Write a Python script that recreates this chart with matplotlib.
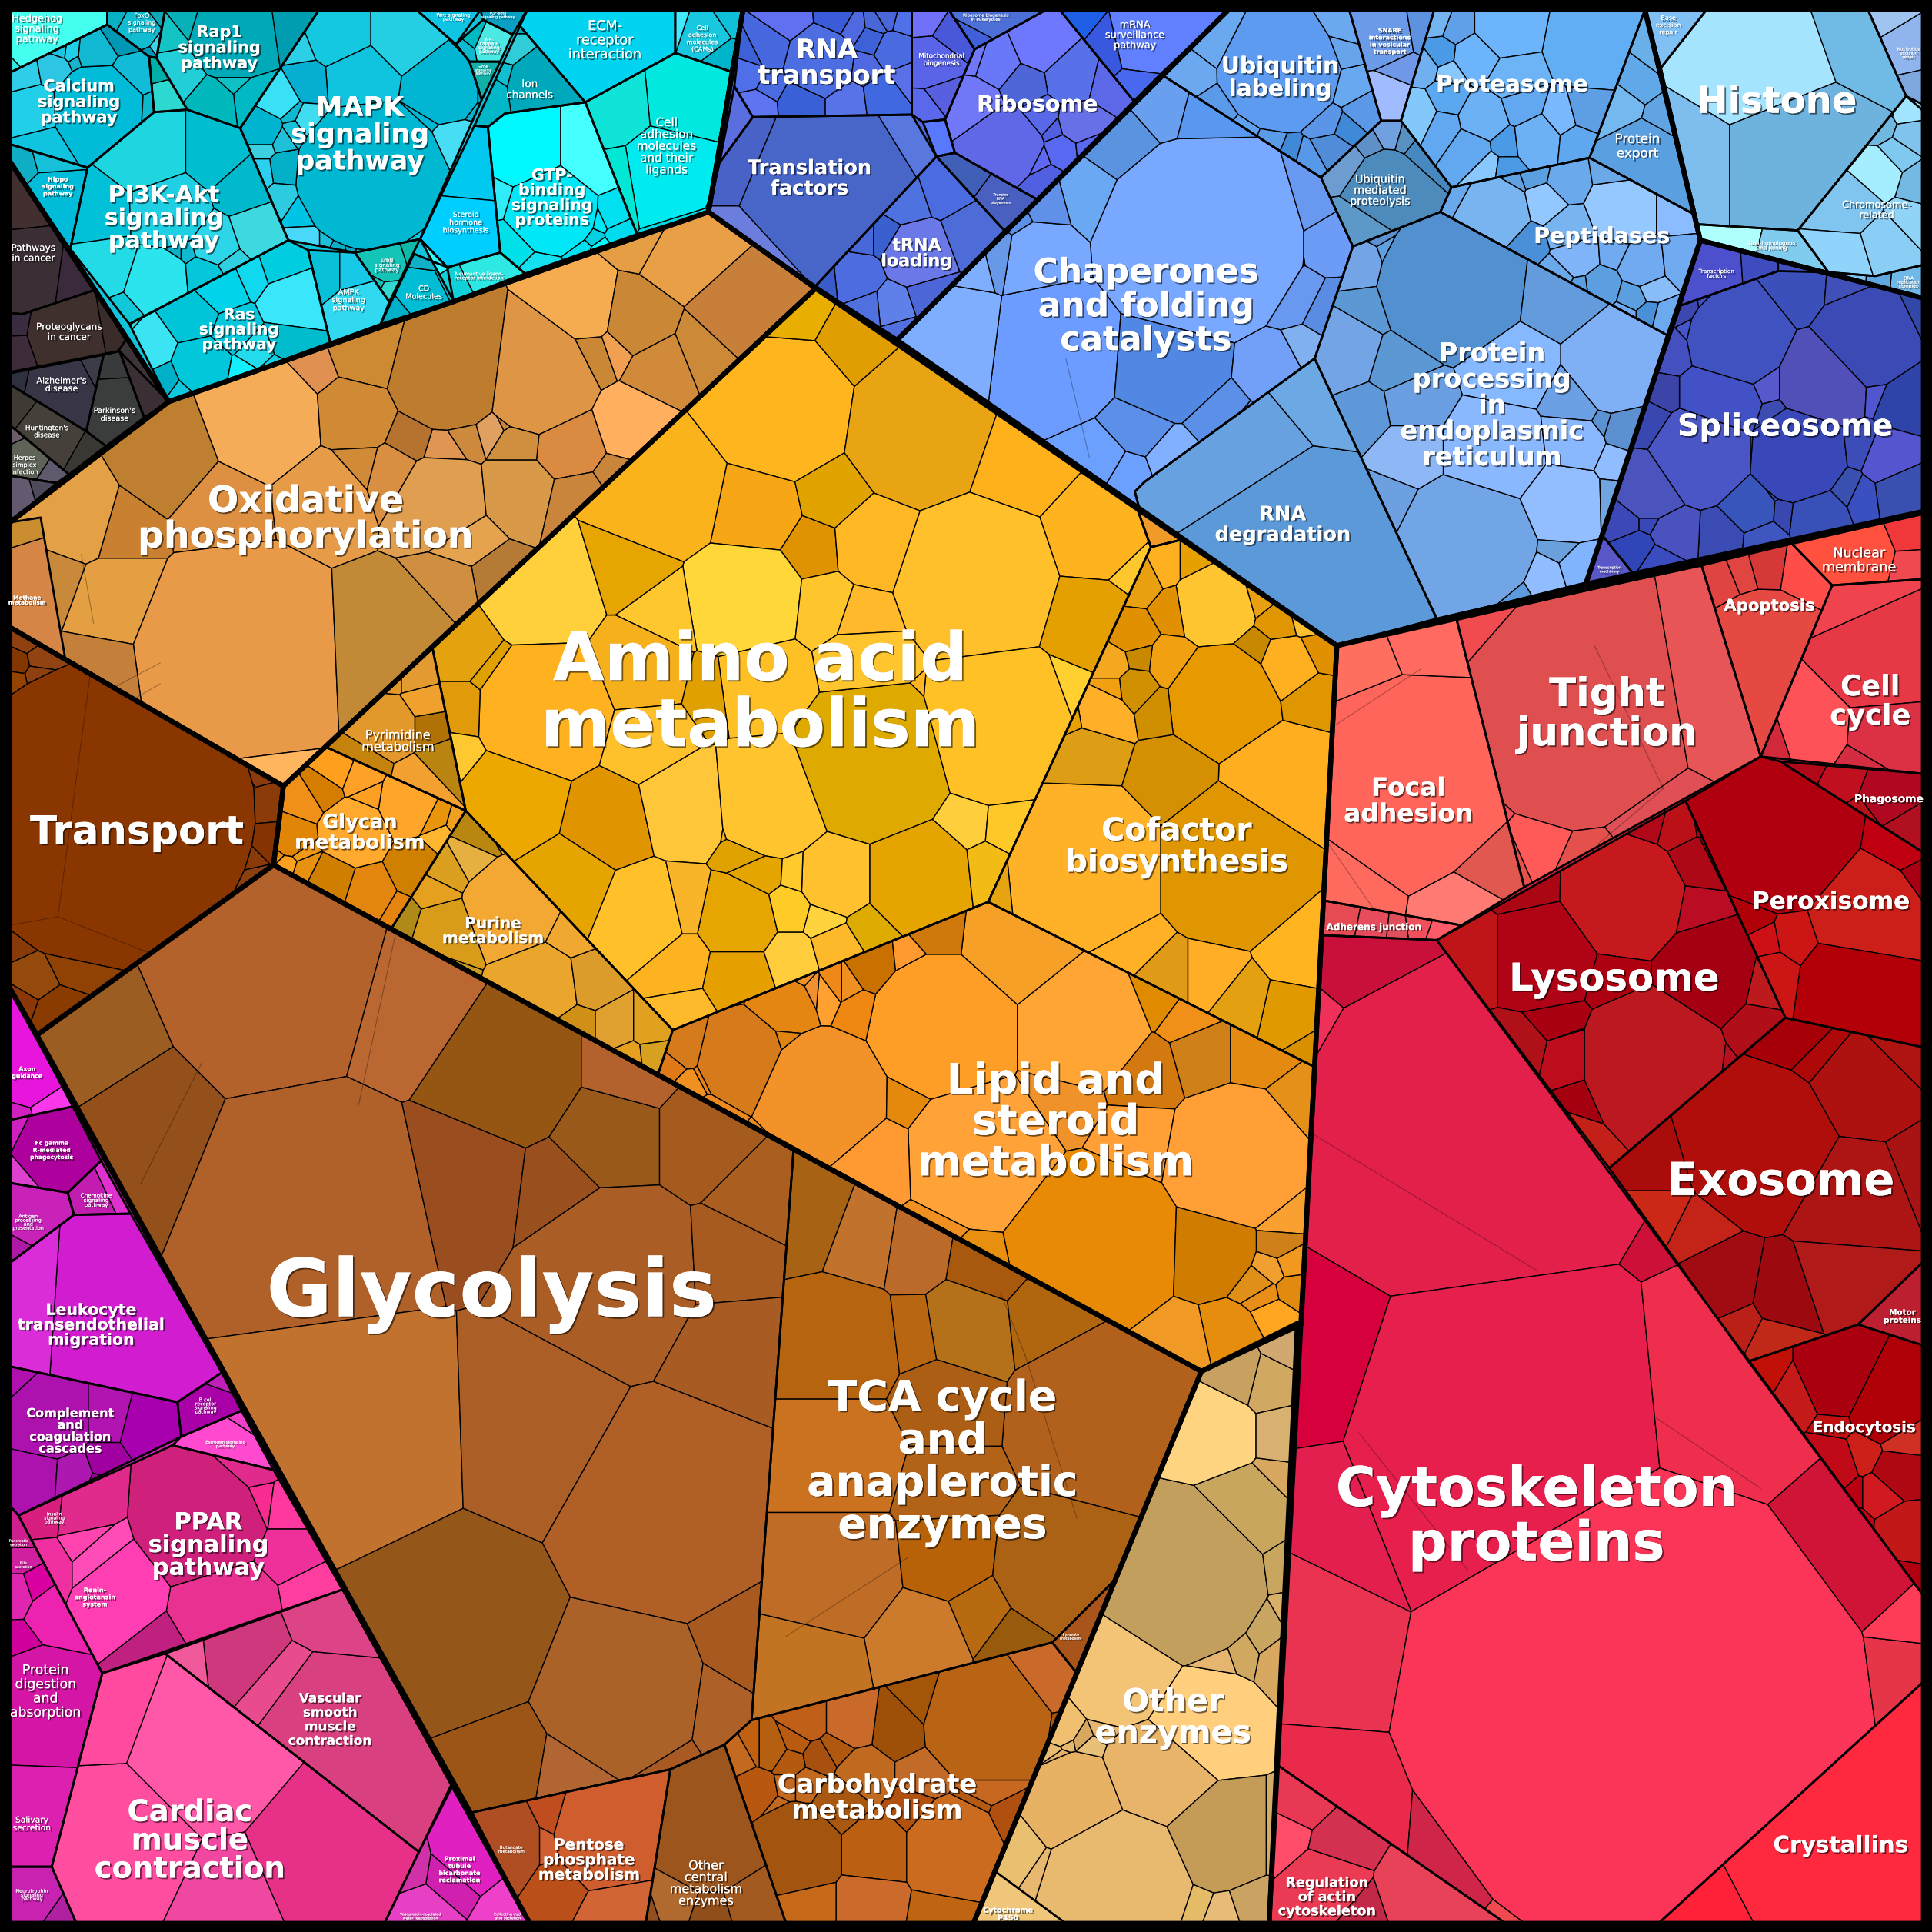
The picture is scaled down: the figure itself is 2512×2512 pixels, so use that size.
import matplotlib
matplotlib.use('Agg')
import matplotlib.pyplot as plt
from matplotlib.patches import Polygon
import matplotlib.patheffects as pe

# cells are (x, y, radius, colour), regions are outline vertices
# a negative radius pushes a cell's border towards its own seed

# signalling block, teal
signal_poly = [(8,8),(603,8),(575,172),(137,326),(8,131)]
hedgehog_poly = [(8,8),(87,8),(87,20),(8,59)]
hedgehog_cells = [(45,25,40,'#44fff0'),(8,60,6,'#33e8e0')]
foxo_poly = [(87,8),(134,8),(127,47),(121,46),(87,20)]
foxo_cells = [(113,25,15,'#12bcd0'),(92,14,4,'#08b0c4'),(128,36,6,'#3dd4e8'),(120,42,3,'#0098b8'),(130,12,4,'#10a8b8')]
calcium_poly = [(8,59),(87,20),(121,46),(125,91),(71,136),(8,117)]
calcium_cells = [(80,88,36,'#00bcd8'),(25,90,20,'#22cfe8'),(18,62,12,'#30cde8'),(45,57,11,'#2cc6e4'),(78,45,14,'#10b8d2'),(105,62,15,'#12bcd8'),(58,43,5,'#20d0e8'),(98,32,8,'#0098b4'),(32,118,15,'#10c4e0'),(117,90,6,'#0db8cc'),(62,50,3,'#18b4cc'),(50,42,3,'#20c4e0')]
hippo_poly = [(8,117),(71,136),(57,202),(8,131)]
hippo_cells = [(42,162,22,'#00bcd8'),(18,138,8,'#10aec4'),(40,132,6,'#16c0d8')]
pi3k_poly = [(71,136),(125,91),(152,89),(195,104),(234,195),(105,263),(57,202)]
pi3k_cells = [(118,122,34,'#1fd5e0'),(175,122,26,'#00bdd0'),(200,150,22,'#00b9cc'),(212,185,20,'#3dd8e0'),(80,172,26,'#00c1d8'),(86,215,24,'#22dbe6'),(127,228,26,'#2ce4ee'),(164,225,15,'#06c7da'),(174,198,16,'#2cd5e8'),(135,170,30,'#1fcfe4'),(100,252,10,'#10c8d8'),(142,205,5,'#0cb0c8'),(185,213,5,'#30d0e0'),(150,205,3,'#10b8d0')]
ras_poly = [(105,263),(234,195),(250,203),(268,278),(137,326)]
ras_cells = [(177,232,18,'#00d3ea'),(228,212,15,'#00cde0'),(240,245,22,'#3ae6fa'),(155,255,18,'#00c5d8'),(120,280,16,'#3ae4f2'),(164,297,20,'#00c8da'),(236,275,14,'#00bccc'),(134,310,7,'#00b0c8'),(208,285,9,'#22dcec'),(197,303,5,'#12f0ff'),(204,220,9,'#10d8ee'),(190,268,12,'#06c8dc'),(222,300,4,'#10d0e6'),(145,318,3,'#10c8dc'),(100,262,3,'#40d0d8')]
rap1_poly = [(134,8),(259,8),(195,104),(152,89),(127,47)]
rap1_cells = [(190,30,34,'#00a9b8'),(146,60,14,'#22cfd8'),(205,78,10,'#00b9c4'),(172,82,14,'#00b8bc'),(190,62,8,'#10c0c4'),(150,18,6,'#08b0b8'),(225,25,6,'#009cb0'),(140,26,4,'#14c4c4')]
ip3_poly = [(121,46),(127,47),(152,89),(125,91)]
ip3_cells = [(133,78,10,'#2cd8d0'),(128,58,5,'#00b0a8')]
mapk_poly = [(259,8),(338,8),(370,36),(381,50),(391,81),(341,194),(288,205),(234,195),(195,104)]
mapk_cells = [(276,28,26,'#14c8e0'),(326,28,26,'#25cfe3'),(360,72,28,'#00b6d2'),(292,62,26,'#10c3de'),(250,65,13,'#06aed2'),(246,40,7,'#2ccfe6'),(224,80,15,'#3ae0f5'),(212,103,15,'#00b5d0'),(301,143,60,'#00b8d2'),(368,112,13,'#46ddf5'),(348,92,8,'#00b8d6'),(376,84,5,'#10b0cc'),(385,72,4,'#00a8c0'),(248,172,10,'#00c4e6'),(249,195,9,'#4ad8fa'),(232,137,9,'#04afc8'),(212,118,4,'#3bcfe0'),(212,140,4,'#2ad0ee'),(230,160,6,'#2ccbe0'),(275,200,4,'#0cb0c8'),(297,203,5,'#14c0e0'),(318,198,6,'#10c0de'),(334,190,5,'#10c8e8'),(248,98,5,'#40dcf0'),(238,105,3,'#18c0d8'),(262,205,3,'#40d8f0'),(284,198,3,'#08a8c0'),(372,60,4,'#00b0c8'),(235,92,3,'#10b8d0'),(228,112,3,'#20c0d8'),(265,195,2,'#1cc0d8')]
wnt_poly = [(338,8),(390,8),(370,36)]
wnt_cells = [(368,16,12,'#10c4e4')]
tgf_poly = [(390,8),(428,8),(416,28),(392,16)]
tgf_cells = [(405,14,9,'#0aa0c4')]
nfkb_poly = [(370,36),(392,16),(416,28),(406,50),(381,50)]
nfkb_cells = [(398,36,10,'#4ce8e4'),(376,40,3,'#10b8d0'),(384,30,4,'#00b8c0')]
mtor_poly = [(381,50),(406,50),(391,81)]
mtor_cells = [(393,60,8,'#12b0a8')]
ampk_poly = [(250,203),(288,205),(316,245),(309,263),(268,278)]
ampk_cells = [(292,255,22,'#30d8f0'),(265,222,12,'#08c0d8'),(283,222,9,'#18c8e8')]
erbb_poly = [(288,205),(341,194),(316,245)]
erbb_cells = [(313,212,14,'#14c4b8'),(315,238,3,'#30d8d0'),(303,232,2,'#18c0b8'),(335,205,3,'#10b8a8')]
cd_poly = [(336,206),(363,217),(368,244),(309,263)]
cd_cells = [(342,235,16,'#00bcd4'),(345,212,5,'#10b0c8'),(362,225,4,'#10b8cc'),(318,255,3,'#00b0c8')]
neuro_poly = [(341,194),(363,217),(406,205),(426,222),(368,244)]
neuro_cells = [(392,222,14,'#2ee8e4'),(355,205,8,'#36f8ff'),(372,232,8,'#10d0d8')]
steroid_poly = [(385,102),(396,103),(406,205),(363,217),(341,194)]
steroid_cells = [(382,140,16,'#00c8ee'),(378,185,20,'#00ceff')]
gtp_poly = [(396,103),(410,92),(475,83),(517,190),(426,222),(406,205)]
gtp_cells = [(430,130,25,'#00f8ff'),(480,130,25,'#44ffff'),(448,170,36,'#00e8f8'),(497,172,9,'#00e0f0'),(422,195,12,'#00e0e8'),(505,190,6,'#00dcec'),(470,200,6,'#00e0f0'),(415,160,6,'#30ecf8'),(487,205,3,'#00fcff'),(440,213,4,'#14e0f0'),(478,192,2,'#00d0e0'),(484,178,3,'#00e8f8')]
ion_poly = [(428,8),(421,20),(475,83),(410,92),(396,103),(385,102)]
ion_cells = [(434,67,20,'#00a8bc'),(413,40,8,'#30ccd8'),(400,72,5,'#00b8c8'),(413,17,3,'#00b0c0'),(408,60,3,'#10c0d0')]
ecm_poly = [(428,8),(548,8),(548,43),(475,83),(421,20)]
ecm_cells = [(490,35,40,'#00d4f0')]
cams_poly = [(548,8),(603,8),(593,58),(548,43)]
cams_cells = [(570,28,16,'#18c8e0'),(592,13,4,'#10c0d8'),(585,48,7,'#00b4cc'),(552,22,4,'#44e8ff')]
celladh_poly = [(475,83),(548,43),(593,58),(575,172),(517,190)]
celladh_cells = [(558,85,28,'#00e8e0'),(545,140,36,'#00ebf0'),(505,90,15,'#10e4d8'),(515,145,14,'#00e8d4'),(572,150,7,'#00e0f0'),(555,172,3,'#00d8e0')]

# disease block, dark grey
disease_poly = [(8,131),(137,326),(8,424)]
cancer_poly = [(8,131),(78,235),(18,255),(8,254)]
cancer_cells = [(14,160,16,'#41302f'),(20,220,28,'#3b2e35'),(57,225,8,'#3a2a3c')]
proteo_poly = [(8,254),(18,255),(78,235),(102,276),(96,285),(8,302)]
proteo_cells = [(55,270,30,'#3f302e'),(85,265,12,'#392c2a'),(11,262,3,'#3a2c40'),(12,285,7,'#3e2c3a')]
alz_poly = [(8,303),(84,288),(70,350),(8,312)]
alz_cells = [(48,315,26,'#383646'),(76,300,5,'#3c3c48'),(14,308,4,'#2e3040')]
parkin_poly = [(84,288),(97,285),(117,339),(86,362),(70,350)]
parkin_cells = [(92,330,20,'#3b3d3d'),(90,295,5,'#383a3c')]
hunt_poly = [(8,312),(70,350),(86,362),(56,385),(8,345)]
hunt_cells = [(40,352,22,'#45413a'),(12,330,5,'#3f3b34'),(72,370,6,'#3a3832')]
small_dis_poly = [(97,285),(137,326),(117,339)]
small_dis_cells = [(113,320,10,'#3a2f34')]
herpes_poly = [(8,345),(56,385),(46,392),(8,386)]
herpes_cells = [(22,372,14,'#5e6458'),(12,350,4,'#6a5c68'),(42,385,4,'#60586c')]
other_dis_poly = [(8,386),(46,392),(8,424)]
other_dis_cells = [(16,402,12,'#645a70'),(30,398,6,'#4f4a5a')]

# oxidative phosphorylation, ochre
oxphos_poly = [(8,424),(137,326),(575,172),(662,234),(230,638),(8,509)]
methane_poly = [(8,424),(33,420),(53,535),(8,509)]
methane_cells = [(25,470,25,'#d58545'),(12,428,3,'#c98d30')]
oxphos_cells = [(214,340,44,'#f5ac58'),(134,370,36,'#bf7f30'),(301,282,32,'#ce8a32'),(364,298,50,'#be7d2e'),(288,335,28,'#d08a35'),(258,298,10,'#e09050'),(435,307,44,'#de9545'),(478,285,12,'#ca8736'),(475,253,22,'#f5ac50'),(498,278,4,'#f0a050'),(515,260,22,'#ca8736'),(555,205,26,'#e89f45'),(600,255,28,'#c77f3a'),(528,190,14,'#e59e44'),(575,282,12,'#cc8a38'),(535,298,14,'#d18a3a'),(512,345,20,'#ffaf5e'),(360,362,7,'#e09552'),(334,354,10,'#b5732f'),(375,352,5,'#cd8a3c'),(318,382,12,'#d98f42'),(358,405,32,'#e09e50'),(421,399,24,'#d89a48'),(461,362,22,'#db8a42'),(421,358,12,'#cf8f3e'),(500,390,6,'#c8853b'),(470,410,22,'#c8853b'),(400,345,5,'#e0a060'),(410,340,4,'#c8853c'),(290,375,8,'#d18a38'),(60,415,34,'#e3a045'),(180,410,26,'#dd8f42'),(262,400,28,'#e69b48'),(95,425,18,'#c98030'),(95,490,30,'#e39f42'),(40,470,16,'#c88a3a'),(195,530,85,'#e89a49'),(310,525,52,'#c28a36'),(85,545,26,'#c47f3a'),(205,612,6,'#ffb55e'),(380,440,14,'#e5a350'),(398,465,8,'#b57a35'),(370,470,8,'#d08f40')]

# transport, dark brown
transport_poly = [(8,509),(230,638),(222,702),(30,840),(8,802)]
transport_cells = [(85,660,122,'#8a3600'),(213,655,10,'#8b3b08'),(215,680,9,'#853300'),(205,718,9,'#8a4010'),(195,632,3,'#8c3c0c'),(205,625,3,'#8c3c0c'),(200,695,4,'#8a3a08'),(22,520,4,'#8e4010'),(32,534,5,'#914412'),(14,538,5,'#833600'),(30,548,3,'#8e4010'),(12,552,3,'#944400'),(10,760,8,'#883a08'),(26,795,9,'#944a0c'),(45,822,9,'#8a3c00'),(60,778,11,'#8f4204'),(16,812,3,'#8a3808')]

# amino acid and neighbours, amber
aa_poly = [(662,234),(923,413),(934,444),(802,732),(546,836),(378,658),(351,526)]
aa_cells = [(634,331,56,'#ffb61e'),(747,348,58,'#e8a412'),(825,375,34,'#ffb11c'),(792,468,62,'#ffc02c'),(611,415,34,'#f7a615'),(544,401,44,'#fbb31c'),(658,445,17,'#e09300'),(675,401,20,'#e0a300'),(711,441,30,'#ffb723'),(890,435,34,'#ffb31e'),(885,495,24,'#e3a000'),(912,458,10,'#ffc72e'),(604,485,45,'#ffd738'),(668,492,20,'#ffc52c'),(698,502,16,'#ffb92b'),(544,495,16,'#ffc72e'),(438,487,32,'#ffd03c'),(441,577,52,'#ffb11f'),(415,650,40,'#eda800'),(492,668,30,'#e09500'),(458,720,36,'#e5a400'),(520,745,36,'#ffc02a'),(598,748,30,'#e6a500'),(557,654,32,'#ffc63a'),(628,648,46,'#ffc42e'),(708,618,64,'#deaa00'),(808,591,60,'#ffc126'),(745,711,42,'#e6a400'),(680,711,30,'#ffc12e'),(551,738,20,'#f9b42a'),(551,782,24,'#fdb21f'),(598,792,26,'#e6a100'),(641,778,17,'#ffcc3c'),(641,738,13,'#ffcb26'),(668,745,10,'#ffd33d'),(678,768,13,'#fdb92a'),(783,668,14,'#ffce3c'),(818,671,13,'#ffc829'),(800,705,14,'#f2bb16'),(705,751,8,'#deab00'),(557,818,15,'#ffba2b'),(700,540,28,'#ffc52e'),(620,555,34,'#ffc025'),(520,545,28,'#f5b01c'),(525,600,25,'#ffc12b'),(640,255,18,'#e8ae00'),(690,283,16,'#e09e00'),(378,530,14,'#e3a20e'),(378,575,12,'#e09a0a'),(372,615,8,'#ffc830'),(400,548,5,'#e0a000'),(618,708,9,'#e5a500'),(610,690,6,'#e0a200'),(650,710,8,'#ffcb2c'),(520,462,7,'#e6a500'),(583,560,4,'#e0a000'),(740,585,6,'#ffb525'),(852,575,8,'#ffd030'),(606,655,3,'#e8a800'),(594,660,3,'#f0b020')]
aa_small_poly = [(923,413),(959,438),(934,444)]
aa_small_cells = [(938,433,6,'#f09a2a')]
cofactor_poly = [(934,444),(959,438),(1085,524),(1067,866),(802,732)]
cofactor_cells = [(882,700,64,'#ffb228'),(1000,700,62,'#e09600'),(992,568,42,'#e69a00'),(1040,638,44,'#ffae20'),(885,615,24,'#dd9e16'),(949,635,30,'#d49000'),(895,581,18,'#ffb028'),(922,558,12,'#d09000'),(939,574,7,'#cf8f00'),(985,490,30,'#ffc530'),(955,495,12,'#e09000'),(925,470,12,'#e8a010'),(1045,540,20,'#ffb020'),(950,538,14,'#f0a010'),(1020,480,9,'#e8a010'),(1060,500,9,'#ffc030'),(1060,560,5,'#e09600'),(1040,505,6,'#e09600'),(920,515,9,'#e09000'),(905,540,5,'#f4a820'),(970,460,6,'#e6a000'),(945,460,7,'#ffb020'),(1060,770,22,'#ffb420'),(945,795,16,'#e09a18'),(1050,825,16,'#e09a00'),(980,795,12,'#ffae25'),(920,770,10,'#ffb025'),(1005,815,8,'#e3a010'),(1065,850,4,'#d89000'),(822,706,4,'#e6a510'),(1065,530,4,'#e09000'),(905,560,3,'#f0a010'),(872,585,3,'#e6a000'),(925,535,3,'#c88800'),(1020,530,4,'#c88800')]
lipid_poly = [(546,836),(802,732),(1067,866),(1056,1075),(975,1113),(534,872)]
lipid_cells = [(765,832,58,'#ff9e26'),(879,832,50,'#ffa534'),(825,765,44,'#f6a028'),(668,889,50,'#f39228'),(601,859,34,'#d67b1c'),(558,849,14,'#d67b1c'),(638,815,20,'#e58512'),(698,818,8,'#ee8812'),(710,785,16,'#c87000'),(765,758,18,'#cf780c'),(738,782,11,'#ff9a30'),(939,808,16,'#e08a00'),(962,825,12,'#f09018'),(976,859,20,'#d08018'),(1017,859,15,'#e58a10'),(929,872,24,'#d47810'),(865,889,16,'#f0922a'),(795,936,56,'#ffa238'),(926,925,24,'#ff9f36'),(1003,939,56,'#ff9f36'),(711,939,24,'#ff9a32'),(889,1009,66,'#e88a06'),(983,1012,32,'#d07c00'),(735,890,8,'#e4890c'),(1048,900,14,'#e59018'),(1040,985,10,'#f8a030'),(955,1095,18,'#f09a25'),(1002,1085,16,'#e68d0e'),(1035,1068,10,'#ffa520'),(1048,1048,7,'#e08a10'),(1032,1030,5,'#f0a030'),(1022,1042,3,'#e09018'),(1045,1025,4,'#f09820'),(1028,1052,3,'#e88e18'),(1038,1012,4,'#d08018'),(786,1030,18,'#e88f10'),(760,1005,6,'#ef9020'),(762,1068,6,'#ffa030'),(720,1062,3,'#f0901e'),(670,806,4,'#ffa030'),(658,805,3,'#f09030'),(678,800,3,'#ee8818'),(648,796,2,'#f09025'),(688,800,3,'#f09020'),(635,848,3,'#e08512'),(545,865,3,'#e07a18'),(590,990,5,'#e58820'),(605,1002,3,'#f09020'),(575,905,5,'#f08820'),(560,880,3,'#f09020'),(575,872,3,'#e88414'),(617,940,3,'#ea8a18'),(590,790,3,'#f09530')]
pyrim_poly = [(264,606),(351,526),(378,658)]
pyrim_cells = [(316,590,20,'#e3982c'),(295,625,12,'#c5830e'),(340,635,12,'#f2a030'),(345,590,6,'#b07206'),(335,545,8,'#e39a30'),(356,620,5,'#ba8410'),(320,545,3,'#e09828'),(342,572,4,'#f0a02c')]
glycan_poly = [(230,638),(264,606),(378,658),(318,753),(222,702)]
glycan_cells = [(288,675,24,'#ffa92e'),(330,655,20,'#ffa52a'),(272,625,10,'#ff9f1e'),(246,650,8,'#f09018'),(262,640,9,'#d57d00'),(290,632,6,'#ffa028'),(235,680,14,'#e08506'),(340,705,20,'#d08000'),(300,725,16,'#e3850e'),(268,715,15,'#d07e00'),(358,685,10,'#ffb52e'),(325,740,7,'#e58510'),(355,725,5,'#f09a2c'),(240,722,4,'#ffa220'),(225,693,3,'#e88e08'),(345,635,4,'#e88a10'),(375,672,4,'#f0a020'),(232,700,3,'#ffa020'),(248,705,3,'#e89010'),(242,690,3,'#f09818'),(298,650,3,'#ffa025'),(350,665,3,'#e8950c')]
purine_poly = [(378,658),(546,836),(534,872),(318,753)]
purine_cells = [(415,735,34,'#f3a834'),(440,800,28,'#eaa52c'),(360,755,20,'#d89c1a'),(388,677,8,'#b98610'),(380,695,6,'#e6b040'),(362,705,8,'#dca020'),(352,725,6,'#e6a020'),(478,795,16,'#dc9c2c'),(465,835,12,'#d09015'),(500,835,10,'#e0a030'),(510,860,8,'#e6a020'),(328,745,4,'#b08a18'),(352,778,5,'#c89a20'),(465,760,6,'#f0a830'),(400,670,4,'#e6b030'),(525,835,4,'#e0a020'),(528,858,3,'#d8a020')]

# central carbon, brown
glyco_poly = [(30,840),(222,702),(644,934),(610,1396),(588,1416),(544,1436),(383,1471)]
glyco_cells = [(225,790,75,'#b4622c'),(335,820,35,'#bb6731'),(65,860,28,'#9c5d22'),(100,915,30,'#94501a'),(260,980,85,'#b06029'),(410,870,50,'#955513'),(375,955,40,'#9a4e1f'),(455,965,18,'#9a4f1e'),(495,925,30,'#98591a'),(570,925,22,'#a55b1e'),(510,870,12,'#b3622e'),(620,975,22,'#aa5e20'),(500,1030,62,'#aa5d24'),(595,1025,30,'#a85b21'),(285,1165,85,'#c1722f'),(430,1160,50,'#ab5f26'),(545,1225,75,'#b05f26'),(600,1085,28,'#a85c23'),(360,1320,70,'#95561a'),(510,1380,55,'#ab6229'),(405,1440,22,'#9c5516'),(465,1450,14,'#b16532'),(610,1340,10,'#a8591f'),(580,1390,12,'#ad6028'),(535,1420,10,'#a85a22')]
tca_poly = [(644,934),(975,1113),(907,1280),(854,1333),(610,1396)]
tca_cells = [(655,993,28,'#a86214'),(698,1009,24,'#c1722c'),(742,1016,18,'#bc6a2a'),(802,1026,22,'#a8590e'),(785,1075,28,'#b5701a'),(849,1068,22,'#b0660f'),(892,1148,62,'#b2611c'),(765,1138,24,'#ac5f14'),(675,1090,50,'#b66410'),(675,1181,50,'#cb7220'),(743,1082,10,'#b96612'),(675,1274,50,'#bf6c27'),(768,1264,28,'#b76208'),(859,1274,45,'#ab6214'),(795,1310,16,'#b76a10'),(748,1330,30,'#cc7a2c'),(658,1347,30,'#c27422'),(822,1330,14,'#985a0c'),(765,1207,20,'#b36317')]
pyruv_poly = [(854,1333),(907,1280),(874,1358)]
pyruv_cells = [(878,1325,12,'#a9541a')]
carb_poly = [(588,1416),(610,1396),(854,1333),(874,1358),(790,1561),(638,1561)]
carb_cells = [(800,1395,50,'#b96415'),(830,1372,22,'#c96a2a'),(750,1380,18,'#a55508'),(730,1400,18,'#9e5008'),(690,1395,18,'#ca6a2a'),(655,1395,14,'#c06018'),(625,1420,10,'#b46010'),(655,1450,8,'#c46a20'),(612,1455,16,'#b85810'),(700,1440,14,'#c06a20'),(680,1465,18,'#a85810'),(750,1440,8,'#c26a28'),(645,1500,36,'#a35510'),(710,1500,24,'#bb6012'),(775,1500,38,'#cb6b1f'),(705,1545,20,'#cb6a2a'),(655,1545,16,'#c66a1a'),(765,1555,12,'#bf6512'),(815,1480,10,'#b05010'),(800,1450,7,'#c76820'),(740,1470,7,'#b25010'),(790,1470,5,'#b55a10'),(618,1420,5,'#c06010'),(655,1475,4,'#bc6012'),(600,1430,4,'#c46a20'),(835,1400,5,'#a85510'),(640,1430,5,'#b45a10'),(630,1470,6,'#c06a20'),(645,1412,4,'#b85a10'),(665,1425,5,'#a85010'),(640,1450,3,'#c46a20'),(677,1418,3,'#b05810')]
central_poly = [(544,1436),(588,1416),(638,1561),(524,1561)]
central_cells = [(575,1490,42,'#9c551c'),(545,1545,14,'#b06a30'),(575,1555,8,'#8f4e1a'),(610,1545,12,'#a25a20'),(530,1550,4,'#915020')]
pentose_poly = [(383,1471),(544,1436),(524,1561),(430,1561)]
pentose_cells = [(490,1490,40,'#cf5d2e'),(415,1500,24,'#ae4e22'),(455,1480,8,'#bf4d20'),(452,1525,14,'#bb4f1a'),(445,1500,10,'#cf5e30'),(500,1550,14,'#d16535')]

# other enzymes, sand
other_poly = [(975,1113),(1053,1074),(1030,1561),(790,1561)]
other_cells = [(960,1280,68,'#c29f5c'),(1010,1230,36,'#c8a65e'),(985,1165,30,'#ffd480'),(1030,1120,16,'#d0a862'),(1010,1115,14,'#c8a060'),(910,1358,44,'#f3c475'),(975,1400,44,'#ffcf7e'),(940,1440,46,'#e8b46a'),(875,1465,42,'#e8b264'),(908,1525,60,'#e8ba70'),(985,1490,42,'#c49c58'),(1035,1205,10,'#d8a860'),(1035,1270,16,'#c8a660'),(1025,1320,14,'#c8a560'),(1040,1165,12,'#d8b070'),(1005,1333,8,'#d0a860'),(985,1340,10,'#e6b570'),(900,1400,10,'#e6b46c'),(860,1400,16,'#f0c070'),(838,1495,8,'#e8c070'),(860,1510,12,'#e8b870'),(963,1543,12,'#e4bc68'),(995,1555,8,'#e8bc78'),(1010,1550,5,'#caa262'),(1015,1490,10,'#d4ac68'),(860,1430,6,'#e6b06a'),(885,1420,4,'#e8c078'),(1040,1340,3,'#d8a860'),(1040,1100,5,'#d0a870'),(866,1412,3,'#e6b870'),(853,1420,3,'#e8bc70'),(876,1410,3,'#d8a860'),(1042,1310,4,'#d8b068'),(1010,1295,3,'#d8b070')]
p450_poly = [(790,1561),(808,1519),(865,1561)]
p450_cells = [(820,1545,14,'#f0c67a')]

# cytoskeleton and junctions, red
red_poly = [(1085,524),(1561,416),(1561,1561),(1030,1561)]
focal_poly = [(1085,524),(1182,502),(1237,720),(1186,751),(1075,731)]
focal_cells = [(1145,630,74,'#ff655a'),(1105,530,5,'#ff6f60'),(1150,512,5,'#ff6b60'),(1080,722,3,'#ff6a5e'),(1205,742,5,'#ff7a72'),(1222,712,2,'#e05850')]
adherens_poly = [(1075,731),(1186,751),(1166,763),(1073,759)]
adherens_cells = [(1090,745,6,'#e64a52'),(1115,750,8,'#e64c5c'),(1150,750,6,'#f0505c'),(1170,757,5,'#ff5a68'),(1135,752,3,'#e0505c')]
tight_poly = [(1182,502),(1381,459),(1429,614),(1237,720)]
tight_cells = [(1275,580,90,'#e04f50'),(1390,560,40,'#e85556'),(1335,665,12,'#e04f55'),(1245,680,14,'#ff5a58'),(1210,650,7,'#f04c58'),(1195,510,6,'#f04c50'),(1222,690,6,'#e8504c'),(1290,700,5,'#e4504c')]
apopt_poly = [(1381,459),(1454,441),(1487,475),(1429,614)]
apopt_cells = [(1430,525,38,'#e64842'),(1395,462,5,'#df4440'),(1432,450,8,'#d63838'),(1465,455,5,'#ff4d4a'),(1410,456,4,'#e04542')]
nuclear_poly = [(1454,441),(1561,416),(1561,470),(1487,475)]
nuclear_cells = [(1505,450,25,'#ff513e'),(1553,430,6,'#f0373a'),(1555,462,3,'#f04a50')]
cellcyc_poly = [(1487,475),(1561,470),(1561,628),(1429,614)]
cellcyc_cells = [(1525,535,38,'#e63845'),(1505,490,10,'#f0434e'),(1470,590,24,'#ff5258'),(1530,595,24,'#dc3044'),(1440,600,7,'#d02a3a'),(1515,620,5,'#d42c40')]
lyso_poly = [(1166,763),(1368,650),(1449,826),(1306,948)]
lyso_cells = [(1318,730,48,'#c5191e'),(1255,775,40,'#b00316'),(1385,790,38,'#a50011'),(1340,860,56,'#bb181f'),(1310,790,18,'#ad0010'),(1275,860,18,'#bd0c1c'),(1370,740,12,'#ba0c22'),(1375,700,10,'#ad0816'),(1360,670,6,'#bc1018'),(1395,690,5,'#b00018'),(1380,865,7,'#b41020'),(1430,800,14,'#bd1a1e'),(1425,830,10,'#b00e18'),(1245,728,5,'#ab0614'),(1215,775,5,'#bf1418'),(1270,925,10,'#c4201a'),(1283,885,4,'#a50010'),(1265,830,5,'#a80010'),(1272,850,3,'#a00010'),(1340,665,4,'#b00818'),(1390,665,3,'#b00010'),(1240,852,3,'#b01018')]
perox_poly = [(1368,650),(1429,614),(1445,618),(1561,692),(1561,850),(1449,826)]
perox_cells = [(1445,680,58,'#b00010'),(1515,740,42,'#cc1f1a'),(1505,800,40,'#b30008'),(1420,745,8,'#b00008'),(1430,765,6,'#cc1015'),(1435,790,12,'#cc1515'),(1540,695,4,'#c00010'),(1550,715,4,'#a80012'),(1455,760,4,'#cc1515')]
phago_poly = [(1445,618),(1561,628),(1561,692)]
phago_cells = [(1530,650,12,'#b00820'),(1490,635,9,'#c01020'),(1545,675,6,'#b01020'),(1470,625,3,'#b00818'),(1510,665,5,'#b81018')]
exo_poly = [(1449,826),(1561,850),(1561,1024),(1508,1075),(1419,1105),(1306,948)]
exo_cells = [(1430,930,60,'#b00e0a'),(1510,885,36,'#ad1210'),(1500,970,44,'#ad1414'),(1395,1040,26,'#a00c12'),(1450,1050,20,'#9c0a10'),(1495,1035,30,'#b01a18'),(1345,985,18,'#cc2818'),(1375,1000,14,'#c42418'),(1345,955,10,'#aa0c0c'),(1440,1090,10,'#c02818'),(1460,840,10,'#a50008'),(1480,860,4,'#ae0808'),(1535,860,6,'#b01410'),(1550,950,8,'#a81414'),(1410,1075,6,'#ba1f18')]
motor_poly = [(1508,1075),(1561,1024),(1561,1092)]
motor_cells = [(1545,1060,14,'#bc1f30')]
endo_poly = [(1419,1105),(1508,1075),(1561,1092),(1561,1295)]
endo_cells = [(1488,1125,22,'#ab0010'),(1455,1140,16,'#c51a1a'),(1528,1145,22,'#b00008'),(1480,1190,25,'#c00a18'),(1485,1160,6,'#c01010'),(1510,1180,8,'#cc2018'),(1540,1195,14,'#b00812'),(1470,1225,12,'#d01a12'),(1500,1240,12,'#c40010'),(1545,1245,18,'#c21818'),(1525,1212,9,'#d01a20'),(1500,1212,6,'#ba0010'),(1543,1170,5,'#d03024'),(1430,1125,5,'#c01008'),(1530,1290,5,'#b80010'),(1540,1280,5,'#b30010'),(1520,1268,3,'#c80010'),(1505,1262,3,'#c01010')]
cyto_poly = [(1073,759),(1166,763),(1561,1295),(1561,1365),(1346,1561),(1222,1561),(1036,1432)]
cyto_cells = [(1190,925,74,'#e3204a'),(1115,785,-119,'#c8103a'),(1060,850,-118,'#f03058'),(1225,1175,100,'#e61f4d'),(1072,1125,-77,'#d5003c'),(1088,1230,-68,'#e31f4f'),(1044,1320,-60.5,'#e93350'),(1414,1156,24,'#ef2d4c'),(1501,1255,38,'#d01438'),(1340,1374,168,'#fa3558'),(1030,1500,18.5,'#ea2a4a'),(1548,1346,-44,'#e63548'),(1350,1020,-137,'#cc1038'),(1552,1310,-40,'#ff3c58'),(1205,1552,-127,'#f04a50'),(1175,1530,-125,'#cf2548'),(1155,1510,-110,'#cf2548')]
reg_poly = [(1036,1432),(1222,1561),(1030,1561)]
reg_cells = [(1075,1530,24,'#ea3a54'),(1150,1540,22,'#e84258'),(1040,1490,10,'#ff4c68'),(1085,1500,8,'#d43050'),(1105,1555,6,'#c22848'),(1052,1465,5,'#e83854')]
cryst_poly = [(1561,1365),(1561,1561),(1346,1561)]
cryst_cells = [(1480,1490,70,'#ff293f'),(1365,1550,14,'#ff2138')]

# human specific, magenta
axon_poly = [(8,802),(59,898),(8,909)]
axon_cells = [(22,865,32,'#e815dc'),(40,892,12,'#fb37ec'),(12,900,4,'#d020c0')]
fc_poly = [(8,909),(59,898),(82,942),(55,968),(8,960)]
fc_cells = [(40,932,26,'#ad009c'),(13,955,6,'#e040d0'),(12,918,3,'#d020c0')]
chemo_poly = [(82,942),(106,985),(60,986),(55,968)]
chemo_cells = [(75,972,12,'#c21cb0'),(90,965,5,'#e030d0')]
antigen_poly = [(8,960),(55,968),(60,986),(8,1025)]
antigen_cells = [(28,988,18,'#c822b8'),(12,1018,5,'#b018a8')]
leuko_poly = [(8,1025),(60,986),(106,985),(180,1114),(144,1138),(8,1109)]
leuko_cells = [(100,1070,62,'#d21cd0'),(25,1065,32,'#da2cd8')]
bcell_poly = [(144,1138),(180,1114),(196,1145),(147,1166)]
bcell_cells = [(165,1142,14,'#aa00a8'),(175,1113,3,'#c020b8')]
compl_poly = [(8,1109),(144,1138),(147,1166),(15,1230),(8,1222)]
compl_cells = [(40,1150,32,'#ad12ae'),(125,1160,22,'#a800ae'),(85,1150,14,'#b114b0'),(30,1195,14,'#ad12ae'),(60,1197,12,'#ad18b0'),(85,1188,8,'#a000a0'),(12,1120,5,'#b010b0'),(80,1205,5,'#9a009a')]
estro_poly = [(147,1166),(196,1145),(222,1193),(140,1173)]
estro_cells = [(185,1170,15,'#ff4ad0'),(198,1150,5,'#f040c8')]
ppar_poly = [(15,1230),(140,1173),(222,1193),(278,1290),(83,1358)]
ppar_cells = [(165,1240,48,'#cf217c'),(185,1305,42,'#e83190'),(100,1290,28,'#ff3eb4'),(35,1230,12,'#d81f80'),(62,1233,12,'#e02a8c'),(65,1248,8,'#ff44b0'),(38,1265,8,'#f030a0'),(80,1265,10,'#ff4cb8'),(225,1265,16,'#f0309a'),(210,1220,10,'#f82c90'),(225,1222,5,'#ff38a0'),(240,1295,8,'#ff3ea0'),(205,1195,5,'#e02a8c'),(135,1335,4,'#c02080')]
digest_poly = [(8,1222),(15,1230),(83,1358),(42,1515),(8,1515)]
digest_cells = [(32,1375,36,'#d515a5'),(45,1310,20,'#ee22b0'),(15,1295,10,'#e025b0'),(30,1290,7,'#d800a0'),(16,1332,6,'#d0009c'),(28,1482,16,'#dc20b0'),(15,1262,3,'#d020a0'),(15,1248,6,'#d02090')]
neuro2_poly = [(8,1515),(42,1515),(62,1561),(8,1561)]
neuro2_cells = [(28,1535,18,'#c822b0'),(52,1552,3,'#b020a0')]
cardiac_poly = [(83,1358),(134,1342),(340,1503),(312,1561),(62,1561),(42,1515)]
cardiac_cells = [(170,1420,55,'#ff58a8'),(95,1495,50,'#ff4da0'),(90,1390,15,'#ff4aa0'),(270,1505,56,'#e73088'),(190,1540,25,'#f048a0')]
vascular_poly = [(134,1342),(278,1290),(367,1450),(340,1503)]
vascular_cells = [(195,1340,24,'#d0387e'),(262,1395,46,'#d94080'),(270,1310,16,'#dd4488'),(235,1375,25,'#e84c8e'),(150,1345,3,'#f05a9a')]
prox_poly = [(340,1503),(366,1449),(430,1561),(312,1561)]
prox_cells = [(378,1510,20,'#e020c0'),(365,1525,15,'#d020b0'),(345,1548,14,'#e840c4'),(335,1520,5,'#d030a8'),(412,1552,7,'#ee40c8')]

# blue block, translation
rnat_poly = [(603,8),(740,8),(740,93),(611,95),(596,70)]
rnat_cells = [(665,50,26,'#4c6ee0'),(625,40,12,'#4868e0'),(640,18,8,'#6070f0'),(680,15,7,'#3a5cd8'),(650,82,12,'#3a60d8'),(688,82,9,'#5872e8'),(718,78,12,'#4068e0'),(610,60,6,'#4f6fe8'),(725,40,12,'#4a6ae0'),(708,32,6,'#3d62d8'),(735,65,6,'#5a70e8'),(692,22,3,'#5068e0'),(720,15,5,'#4a66d8'),(615,85,5,'#5f74f0'),(702,55,5,'#5068e0'),(712,20,3,'#4868d8'),(625,68,4,'#4a6ce0'),(615,45,3,'#3d62d8'),(732,18,3,'#5070e8')]
rrna_poly = [(596,70),(611,95),(584,132)]
rrna_cells = [(598,95,10,'#5a6ee0')]
transl_poly = [(611,95),(740,93),(760,127),(662,232),(575,172),(584,132)]
transl_cells = [(670,150,66,'#4865c8'),(610,125,32,'#4862c8'),(610,205,26,'#6b7ede'),(735,110,10,'#5878e0')]
mito_poly = [(740,8),(770,8),(791,40),(767,97),(749,99),(740,93)]
mito_cells = [(755,50,16,'#5a64e8'),(752,90,8,'#5a68ec'),(752,15,6,'#7070f8'),(772,28,7,'#4858d8'),(765,80,5,'#5860e0')]
ribosm_poly = [(749,99),(767,97),(775,124),(760,127)]
ribosm_cells = [(761,111,7,'#5878ff')]
ribob_poly = [(770,8),(849,8),(791,40)]
ribob_cells = [(800,14,10,'#4d70d8'),(790,33,4,'#3f60d8')]
ribosome_poly = [(849,8),(860,8),(921,83),(842,162),(817,148),(775,124),(767,97),(791,40)]
ribosome_cells = [(815,120,30,'#6068e8'),(845,35,20,'#6e78ff'),(870,62,18,'#5870e8'),(810,50,14,'#6878f8'),(790,85,16,'#7078f8'),(835,130,12,'#5f68f0'),(875,100,14,'#6870e8'),(832,68,12,'#4e66d8'),(895,68,8,'#5c68e8'),(862,120,8,'#5868f0'),(845,150,12,'#5060e0'),(845,95,10,'#5868e8'),(856,105,3,'#5060e0'),(882,118,3,'#5868f0'),(795,45,4,'#7078f8')]
trna_poly = [(760,127),(815,187),(728,276),(662,232)]
trna_cells = [(745,205,24,'#6a78e8'),(735,165,14,'#4e72e0'),(765,155,12,'#4a6ce0'),(695,225,12,'#4d6ce0'),(725,250,10,'#5e80e8'),(755,240,11,'#4d66d8'),(665,228,5,'#3a5cc8'),(785,190,12,'#4d6cd8'),(720,190,7,'#3a60d0'),(700,190,3,'#4868d8'),(705,252,5,'#5070e0'),(730,268,3,'#5070e0')]
tbio_poly = [(760,127),(775,124),(842,162),(815,187)]
tbio_cells = [(812,160,10,'#4a60c0'),(785,140,8,'#4060b8')]
mrna_poly = [(860,8),(997,8),(921,83)]
mrna_cells = [(930,30,26,'#6080ff'),(895,38,14,'#3858e0'),(925,70,6,'#4868f0'),(878,24,3,'#1f5ee6')]

# protein fate, light blue
fate_poly = [(997,8),(1335,8),(1380,195),(1287,474),(1085,524),(728,276)]
ubi_poly = [(997,8),(1095,8),(1121,98),(1072,144),(942,60)]
ubi_cells = [(1040,58,46,'#5c9bef'),(1095,72,6,'#68a8f0'),(1082,120,7,'#508cd8'),(1105,90,6,'#5c98e8'),(962,60,5,'#6ba8f0'),(1078,100,5,'#5a95e8'),(1005,112,6,'#60a0f0'),(985,30,5,'#6aa8f0'),(1060,132,4,'#5898e8'),(1092,105,4,'#4088d8'),(1030,122,5,'#5a9ce8'),(1045,128,3,'#4088d8'),(985,95,8,'#5a9ae8'),(1092,25,3,'#6aa8f0'),(1088,40,3,'#68a4ec')]
snare_poly = [(1095,8),(1164,8),(1137,98),(1121,98)]
snare_cells = [(1125,30,18,'#6a9ae8'),(1130,78,12,'#a0bcff'),(1155,25,6,'#5c92e0'),(1138,58,3,'#7098e8')]
ubim_poly = [(1121,98),(1137,98),(1178,152),(1169,172),(1098,200),(1072,144)]
ubim_cells = [(1125,150,26,'#4c8bbb'),(1095,130,8,'#6c9cd0'),(1128,108,5,'#70a0e0'),(1102,185,6,'#5c98c8'),(1110,118,3,'#6090c8'),(1142,112,3,'#5890c0'),(1152,120,3,'#4888c0')]
proteas_poly = [(1164,8),(1335,8),(1290,128),(1178,152),(1137,98)]
proteas_cells = [(1294,37,32,'#62aef5'),(1221,23,22,'#6cb4fc'),(1198,46,16,'#6cb4fc'),(1227,63,15,'#6cb4f5'),(1171,43,6,'#4a9ae5'),(1150,93,15,'#82c8fa'),(1175,80,12,'#5aa8f0'),(1171,103,12,'#62a8f0'),(1204,96,18,'#6cb0f5'),(1234,86,12,'#62a8f0'),(1221,116,9,'#4a9ae5'),(1194,119,14,'#62a8f0'),(1247,113,16,'#6cb0f5'),(1280,116,10,'#5fa8f0'),(1267,96,8,'#7ab8ff'),(1290,90,12,'#5e9ee5'),(1184,23,8,'#60a0e8'),(1168,17,3,'#74b4f0'),(1208,133,6,'#88c8ff'),(1221,135,4,'#4a9ae5'),(1155,55,6,'#70b0f0'),(1178,60,6,'#88c8ff')]
pexport_poly = [(1335,8),(1375,174),(1290,128)]
pexport_cells = [(1335,125,22,'#5a9fe0'),(1330,65,8,'#60a8e8'),(1315,85,6,'#74b8f0'),(1345,45,3,'#6ab0e8'),(1352,95,3,'#60a4e4')]
peptid_poly = [(1178,152),(1290,128),(1375,174),(1380,195),(1353,272),(1169,172)]
peptid_cells = [(1212,172,27,'#78b4f0'),(1254,163,12,'#92c8ff'),(1274,187,14,'#78b4f0'),(1317,170,25,'#94c8ff'),(1357,170,6,'#8abcff'),(1270,147,12,'#6aaaec'),(1247,142,6,'#5aa0e0'),(1313,140,12,'#6aa8e8'),(1333,216,16,'#70aaf0'),(1361,213,8,'#70aaf0'),(1300,233,12,'#5c9fe0'),(1325,240,8,'#5c9fe0'),(1340,233,8,'#88bdf8'),(1280,207,14,'#80b4f8'),(1239,197,9,'#4a90d8'),(1350,258,6,'#6caaf0'),(1310,205,5,'#70aaf0'),(1190,160,3,'#6aa8ec'),(1285,235,3,'#5c9fe0'),(1265,222,3,'#6aaaec'),(1225,150,3,'#60a0e0'),(1338,255,4,'#4a90d8'),(1318,255,3,'#70aaf0')]
perr_poly = [(1098,200),(1169,172),(1353,272),(1287,474),(1166,502),(1067,291)]
perr_cells = [(1178,230,58,'#5290d0'),(1261,240,22,'#639bdc'),(1310,300,35,'#7faff5'),(1227,300,30,'#86b8ff'),(1092,283,25,'#72a4e6'),(1135,296,18,'#5c98d4'),(1105,213,14,'#72a4e6'),(1110,252,10,'#5c98d4'),(1191,440,55,'#72a5e5'),(1267,407,33,'#92bdff'),(1214,367,42,'#8ab8ff'),(1148,367,22,'#8eb8f5'),(1148,326,20,'#6a9ee0'),(1111,333,10,'#5f98d8'),(1277,327,20,'#6ca0e4'),(1320,346,15,'#5c90d0'),(1274,360,25,'#8ab8ff'),(1300,340,6,'#5a92d2'),(1310,376,8,'#90bdff'),(1307,406,12,'#70a5e0'),(1264,447,10,'#6aa0dc'),(1254,467,15,'#90bdff'),(1277,460,12,'#80b4ff'),(1227,483,10,'#5e9ae0'),(1131,410,12,'#6ca0e0'),(1180,185,3,'#80b0f0'),(1128,205,4,'#60a0e0'),(1118,188,5,'#5c90d0')]
rnad_poly = [(1067,291),(1166,502),(1085,524),(925,414),(921,399),(929,391)]
rnad_cells = [(1055,440,66,'#5b99d8'),(1010,370,36,'#67a1e0'),(1072,318,8,'#6ca8e4')]
chap_poly = [(942,60),(1072,144),(1098,200),(1067,291),(929,391),(921,399),(925,414),(728,276)]
chap_cells = [(975,195,82,'#78a8ff'),(858,285,50,'#6c9cff'),(950,292,44,'#5088e4'),(778,275,30,'#80aeff'),(1032,300,20,'#72a0f8'),(990,335,14,'#5c90e8'),(1008,350,12,'#5c90e8'),(915,385,8,'#6ca0ff'),(842,205,22,'#78a8ff'),(1075,195,10,'#6c9cf5'),(1048,240,12,'#6898f0'),(1078,255,6,'#5a8ce4'),(912,120,18,'#5a94e0'),(886,157,13,'#6aa8f4'),(946,90,12,'#68a0ef'),(973,97,10,'#5898f0'),(925,350,10,'#5c90e8'),(950,372,8,'#80b0ff'),(898,375,5,'#6ca0ff'),(810,200,8,'#6898e8'),(790,205,4,'#80aeff'),(825,178,5,'#5a90e8'),(845,168,6,'#6090e8'),(1060,170,8,'#6898f0'),(1040,200,6,'#5c90e8'),(1060,285,5,'#80b0f0')]

# histone and repair, pale blue
dna_poly = [(1335,8),(1561,8),(1561,242),(1380,195)]
base_poly = [(1335,8),(1385,8),(1348,55)]
base_cells = [(1352,22,12,'#80c0f5')]
histone_poly = [(1348,55),(1385,8),(1516,8),(1547,78),(1459,187),(1378,182)]
histone_cells = [(1425,55,50,'#a4e4ff'),(1455,130,58,'#6eb3dd'),(1380,130,36,'#7ebeee'),(1510,25,16,'#70bae6')]
nucl_poly = [(1516,8),(1561,8),(1561,90),(1547,78)]
nucl_cells = [(1545,40,15,'#90b4ee'),(1530,15,5,'#a0c4f0'),(1552,72,5,'#80a8e0')]
chrom_poly = [(1547,78),(1561,85),(1561,215),(1522,224),(1484,221),(1459,187)]
chrom_cells = [(1500,165,22,'#80c4f0'),(1522,140,17,'#a4eeff'),(1497,205,14,'#90d4fc'),(1530,195,15,'#8acdf5'),(1548,178,8,'#90d4f8'),(1525,102,9,'#6fb8e0'),(1538,125,8,'#7fc8f0'),(1530,85,6,'#a0e4ff'),(1548,110,5,'#80c4ee'),(1500,122,5,'#6eb8e8'),(1555,150,5,'#74b8e4'),(1545,90,3,'#a0e4ff'),(1505,105,3,'#80c8f0')]
nhej_poly = [(1380,195),(1378,182),(1459,187),(1484,221)]
nhej_cells = [(1405,192,16,'#b0ffff'),(1450,203,16,'#80ccee')]
replic_poly = [(1484,221),(1522,224),(1561,215),(1561,242)]
replic_cells = [(1548,230,12,'#70b8e8'),(1525,228,7,'#60a8e0'),(1505,226,5,'#80c4f0')]

# splicing, indigo
splice_poly = [(1380,195),(1561,242),(1561,415),(1287,474)]
tf_poly = [(1380,195),(1443,211),(1443,220),(1364,248)]
tf_cells = [(1393,220,18,'#4c50cc'),(1425,218,5,'#3f4cc0')]
tm_poly = [(1287,474),(1300,434),(1325,465)]
tm_cells = [(1306,458,10,'#5a58c8')]
spl_poly = [(1364,248),(1443,220),(1484,221),(1561,242),(1561,415),(1325,465),(1300,434)]
spl_cells = [(1410,275,40,'#4052c0'),(1395,325,32,'#4252c6'),(1432,308,13,'#5658cc'),(1480,308,36,'#5050b8'),(1515,275,40,'#3b4ab4'),(1460,235,16,'#3c50bc'),(1500,238,12,'#4050b8'),(1380,268,10,'#4456c8'),(1380,368,40,'#4a55c6'),(1460,370,38,'#3848b8'),(1431,368,7,'#3450b0'),(1340,395,26,'#4a54bc'),(1345,345,14,'#3848b0'),(1545,320,15,'#2e44a8'),(1520,310,10,'#5055d0'),(1420,410,18,'#3855bc'),(1475,415,20,'#3850b8'),(1398,432,10,'#3a4cb4'),(1358,430,14,'#4a52c0'),(1530,375,12,'#5555d0'),(1540,398,12,'#3a50b0'),(1495,395,10,'#3a50b0'),(1505,365,6,'#3c4cb8'),(1440,395,6,'#3a48b8'),(1320,420,5,'#3c48b8'),(1330,445,5,'#3045b8'),(1362,285,6,'#4450c0'),(1355,325,8,'#3c44a8'),(1440,340,4,'#3c4cb0'),(1430,435,3,'#3f55c0'),(1450,412,3,'#3848b0'),(1385,250,3,'#4050c0'),(1372,252,4,'#3c48b0'),(1340,420,4,'#3848b8'),(1475,390,4,'#3a50b8'),(1510,402,4,'#3a50c0'),(1345,455,4,'#3a4cc0'),(1550,258,4,'#3248a8')]

# drawing order follows the hierarchy: leaf cells, then pathway outlines, then the big blocks
pathways = [
    (hedgehog_poly, hedgehog_cells), (foxo_poly, foxo_cells), (calcium_poly, calcium_cells), (hippo_poly, hippo_cells),
    (pi3k_poly, pi3k_cells), (ras_poly, ras_cells), (rap1_poly, rap1_cells), (ip3_poly, ip3_cells), (mapk_poly, mapk_cells),
    (wnt_poly, wnt_cells), (tgf_poly, tgf_cells), (nfkb_poly, nfkb_cells), (mtor_poly, mtor_cells), (ampk_poly, ampk_cells),
    (erbb_poly, erbb_cells), (cd_poly, cd_cells), (neuro_poly, neuro_cells), (steroid_poly, steroid_cells), (gtp_poly, gtp_cells),
    (ion_poly, ion_cells), (ecm_poly, ecm_cells), (cams_poly, cams_cells), (celladh_poly, celladh_cells),
    (cancer_poly, cancer_cells), (proteo_poly, proteo_cells), (alz_poly, alz_cells), (parkin_poly, parkin_cells), (hunt_poly, hunt_cells),
    (small_dis_poly, small_dis_cells), (herpes_poly, herpes_cells), (other_dis_poly, other_dis_cells),
    (oxphos_poly, oxphos_cells), (methane_poly, methane_cells), (transport_poly, transport_cells),
    (aa_poly, aa_cells), (aa_small_poly, aa_small_cells), (cofactor_poly, cofactor_cells), (lipid_poly, lipid_cells),
    (pyrim_poly, pyrim_cells), (glycan_poly, glycan_cells), (purine_poly, purine_cells),
    (glyco_poly, glyco_cells), (tca_poly, tca_cells), (pyruv_poly, pyruv_cells), (carb_poly, carb_cells), (central_poly, central_cells), (pentose_poly, pentose_cells),
    (other_poly, other_cells), (p450_poly, p450_cells),
    (focal_poly, focal_cells), (adherens_poly, adherens_cells), (tight_poly, tight_cells), (apopt_poly, apopt_cells), (nuclear_poly, nuclear_cells),
    (cellcyc_poly, cellcyc_cells), (lyso_poly, lyso_cells), (perox_poly, perox_cells), (phago_poly, phago_cells), (exo_poly, exo_cells),
    (motor_poly, motor_cells), (endo_poly, endo_cells), (cyto_poly, cyto_cells), (reg_poly, reg_cells), (cryst_poly, cryst_cells),
    (axon_poly, axon_cells), (fc_poly, fc_cells), (chemo_poly, chemo_cells), (antigen_poly, antigen_cells), (leuko_poly, leuko_cells), (bcell_poly, bcell_cells),
    (compl_poly, compl_cells), (estro_poly, estro_cells), (ppar_poly, ppar_cells), (digest_poly, digest_cells), (neuro2_poly, neuro2_cells),
    (cardiac_poly, cardiac_cells), (vascular_poly, vascular_cells), (prox_poly, prox_cells),
    (rnat_poly, rnat_cells), (rrna_poly, rrna_cells), (transl_poly, transl_cells), (mito_poly, mito_cells), (ribosm_poly, ribosm_cells),
    (ribob_poly, ribob_cells), (ribosome_poly, ribosome_cells), (trna_poly, trna_cells), (tbio_poly, tbio_cells), (mrna_poly, mrna_cells),
    (ubi_poly, ubi_cells), (snare_poly, snare_cells), (ubim_poly, ubim_cells), (proteas_poly, proteas_cells), (pexport_poly, pexport_cells),
    (peptid_poly, peptid_cells), (perr_poly, perr_cells), (rnad_poly, rnad_cells), (chap_poly, chap_cells),
    (base_poly, base_cells), (histone_poly, histone_cells), (nucl_poly, nucl_cells), (chrom_poly, chrom_cells), (nhej_poly, nhej_cells), (replic_poly, replic_cells),
    (tf_poly, tf_cells), (tm_poly, tm_cells), (spl_poly, spl_cells),
]

amber_block = [(662,234),(1085,524),(1056,1075),(975,1113),(222,702),(230,638)]
brown_block = [(30,840),(222,702),(975,1113),(790,1561),(430,1561)]
magenta_block = [(8,802),(430,1561),(8,1561)]
blue_block = [(575,172),(603,8),(997,8),(728,276),(662,234)]
blocks = [signal_poly, disease_poly, oxphos_poly, transport_poly, amber_block, brown_block, other_poly,
          red_poly, magenta_block, blue_block, fate_poly, dna_poly, splice_poly]
block_colours = ['#10c4dc', '#3c3436', '#d8923e', '#8a3a04', '#f0a820', '#aa5e20', '#e0b060',
                 '#d82040', '#d020b0', '#4f68d8', '#6ca4ee', '#80c4f0', '#4050c0']

# fine seams inside large cells, start and end of each segment
seam_starts = [(73,549),(47,744),(47,744),(1343,1150),(1191,1274),(1065,920),(1153,543),(1077,683),(1294,524),(1297,685),(321,758),(164,862),(832,1100),(737,1264),(812,1049),(66,450),(94,557),(109,567),(865,291)]
seam_ends = [(47,744),(120,773),(8,751),(1429,1208),(1103,1163),(1247,1031),(1083,589),(1115,738),(1350,640),(1350,640),(291,897),(114,961),(874,1232),(638,1328),(832,1100),(76,506),(130,538),(130,555),(884,371)]

# text, x, y, size
labels_bold = [
    ('Glycolysis',399,1046,65), ('Amino acid\nmetabolism',617,560,54), ('Cytoskeleton\nproteins',1247,1229,44.3),
    ('Transport',111,674,32), ('Oxidative\nphosphorylation',248,420,29.6), ('Chaperones\nand folding\ncatalysts',930,247,27.4),
    ('Protein\nprocessing\nin\nendoplasmic\nreticulum',1211,328,21), ('Spliceosome',1449,345,24.7), ('Histone',1442,81,30),
    ('Tight\njunction',1304,578,32), ('Exosome',1445,957,36.9), ('Lysosome',1310,793,31), ('Peroxisome',1486,731,19.5),
    ('Focal\nadhesion',1143,649,20.5), ('Cell\ncycle',1518,568,23), ('Apoptosis',1436,491,13.2), ('Crystallins',1494,1497,18.4),
    ('Endocytosis',1513,1158,12.4), ('Phagosome',1533,648,8.6), ('Motor\nproteins',1544,1068,6.5),
    ('Regulation\nof actin\ncytoskeleton',1077,1539,11), ('Adherens junction',1115,752,7.5),
    ('Lipid and\nsteroid\nmetabolism',857,909,34), ('Cofactor\nbiosynthesis',955,686,25.5),
    ('TCA cycle\nand\nanaplerotic\nenzymes',765,1185,34.4), ('Carbohydrate\nmetabolism',712,1458,21),
    ('Other\nenzymes',952,1393,25.7), ('Pentose\nphosphate\nmetabolism',478,1509,12.5), ('Cytochrome\nP450',818,1553,6),
    ('Purine\nmetabolism',400,755,12.5), ('Glycan\nmetabolism',292,675,16), ('Methane\nmetabolism',22,487,4.6),
    ('MAPK\nsignaling\npathway',292,108,21.8), ('PI3K-Akt\nsignaling\npathway',133,176,18.7), ('Calcium\nsignaling\npathway',64,82,13),
    ('Rap1\nsignaling\npathway',178,38,13), ('Hippo\nsignaling\npathway',47,151,5), ('Ras\nsignaling\npathway',194,267,12.6),
    ('GTP-\nbinding\nsignaling\nproteins',448,160,12.8), ('RNA\ntransport',671,50,21), ('Ribosome',842,84,17.8),
    ('Translation\nfactors',657,144,16), ('tRNA\nloading',744,205,13.8), ('Proteasome',1227,68,18.3), ('Peptidases',1300,191,17.8),
    ('RNA\ndegradation',1041,425,16), ('Leukocyte\ntransendothelial\nmigration',74,1075,12.8),
    ('Complement\nand\ncoagulation\ncascades',57,1161,10), ('PPAR\nsignaling\npathway',169,1253,19),
    ('Cardiac\nmuscle\ncontraction',154,1493,24), ('Axon\nguidance',22,870,4.8), ('Fc gamma\nR-mediated\nphagocytosis',42,933,4.7),
    ('Renin-\nangiotensin\nsystem',77,1296,5), ('Proximal\ntubule\nbicarbonate\nreclamation',373,1517,5),
    ('SNARE\ninteractions\nin vesicular\ntransport',1128,33,5), ('Ubiquitin\nlabeling',1039,62,18.5),
    ('Vascular\nsmooth\nmuscle\ncontraction',268,1395,10.5),
]
labels_plain = [
    ('Other\ncentral\nmetabolism\nenzymes',573,1528,10), ('Pyrimidine\nmetabolism',323,601,10), ('Hedgehog\nsignaling\npathway',30,23,8),
    ('FoxO\nsignaling\npathway',115,18,5), ('AMPK\nsignaling\npathway',283,243,6), ('ErbB\nsignaling\npathway',314,215,4.5),
    ('Steroid\nhormone\nbiosynthesis',378,180,6), ('CD\nMolecules',344,237,6), ('Neuroactive ligand-\nreceptor interaction',389,224,4),
    ('ECM-\nreceptor\ninteraction',491,32,11), ('Ion\nchannels',430,72,8.5), ('Cell\nadhesion\nmolecules\nand their\nligands',541,118,9.5),
    ('Cell\nadhesion\nmolecules\n(CAMs)',570,31,5), ('Wnt signaling\npathway',368,14,4), ('TGF-beta\nsignaling pathway',404,12,3),
    ('NF-\nkappa B\nsignaling\npathway',397,37,3.8), ('mTOR\nsignaling\npathway',392,57,2.8),
    ('Pathways\nin cancer',27,205,7.6), ('Proteoglycans\nin cancer',56,269,7.6), ("Alzheimer's\ndisease",50,312,7), ("Parkinson's\ndisease",93,336,6),
    ("Huntington's\ndisease",38,350,5.5), ('Herpes\nsimplex\ninfection',20,377,5), ('Mitochondrial\nbiogenesis',764,48,5.5),
    ('Ribosome biogenesis\nin eukaryotes',800,14,3.5), ('mRNA\nsurveillance\npathway',921,28,8), ('Transfer\nRNA\nbiogenesis',812,161,3),
    ('Protein\nexport',1329,118,10.5), ('Ubiquitin\nmediated\nproteolysis',1120,154,9),
    ('Base\nexcision\nrepair',1354,20,5), ('Nucleotide\nexcision\nrepair',1549,43,3.5), ('Chromosome-\nrelated',1523,170,8),
    ('Non-homologous\nend joining',1438,199,4.5), ('DNA\nreplication\ncomplex',1549,229,3.7), ('Transcription\nfactors',1393,222,4.5),
    ('Transcription\nmachinery',1306,462,3), ('Nuclear\nmembrane',1509,454,11),
    ('Protein\ndigestion\nand\nabsorption',37,1372,10.8), ('Salivary\nsecretion',26,1480,6.7), ('Neurotrophin\nsignaling\npathway',26,1538,4),
    ('Antigen\nprocessing\nand\npresentation',23,992,4), ('Chemokine\nsignaling\npathway',78,974,4.5), ('B cell\nreceptor\nsignaling\npathway',167,1141,4),
    ('Estrogen signaling\npathway',183,1172,3.5), ('Insulin\nsignaling\npathway',44,1232,3.7), ('Pancreatic\nsecretion',15,1252,3), ('Bile\nsecretion',19,1270,3),
    ('Vasopressin-regulated\nwater reabsorption',341,1555,3), ('Collecting duct\nacid secretion',412,1555,3),
    ('Butanoate\nmetabolism',415,1501,3.6), ('Pyruvate\nmetabolism',869,1328,3),
]

SIZE = 1568.0
U_TO_PT = 2512 / SIZE * 72 / 100


def clip(poly, a, b, c):
    # keep the part of poly where a*x + b*y <= c
    out = []
    n = len(poly)
    for i in range(n):
        p = poly[i]
        q = poly[(i + 1) % n]
        fp = a * p[0] + b * p[1] - c
        fq = a * q[0] + b * q[1] - c
        if fp <= 0:
            out.append(p)
        if (fp < 0 and fq > 0) or (fp > 0 and fq < 0):
            t = fp / (fp - fq)
            out.append((p[0] + t * (q[0] - p[0]), p[1] + t * (q[1] - p[1])))
    return out


def power_cells(poly, cells):
    # weighted voronoi of the seeds inside one outline
    res = []
    for i, (x, y, r, col) in enumerate(cells):
        part = list(poly)
        for j, (x2, y2, r2, _) in enumerate(cells):
            if i == j or not part:
                continue
            a = 2 * (x2 - x)
            b = 2 * (y2 - y)
            c = x2 * x2 + y2 * y2 - r2 * abs(r2) - x * x - y * y + r * abs(r)
            part = clip(part, a, b, c)
        if len(part) > 2:
            res.append((part, col))
    return res


fig = plt.figure(figsize=(25.12, 25.12), dpi=100, facecolor='black')
ax = fig.add_axes([0, 0, 1, 1])
ax.set_xlim(0, SIZE)
ax.set_ylim(SIZE, 0)
ax.axis('off')

for poly, col in zip(blocks, block_colours):
    ax.add_patch(Polygon(poly, closed=True, facecolor=col, edgecolor='none', zorder=1))
for poly, cells in pathways:
    for part, col in power_cells(poly, cells):
        ax.add_patch(Polygon(part, closed=True, facecolor=col, edgecolor='black', linewidth=1.0, joinstyle='round', zorder=2))
for (x0, y0), (x1, y1) in zip(seam_starts, seam_ends):
    ax.plot([x0, x1], [y0, y1], color='black', alpha=0.3, linewidth=0.8, zorder=2.5)
for poly, cells in pathways:
    ax.add_patch(Polygon(poly, closed=True, fill=False, edgecolor='black', linewidth=2.0, joinstyle='round', zorder=3))
for poly in blocks:
    ax.add_patch(Polygon(poly, closed=True, fill=False, edgecolor='black', linewidth=4.6, joinstyle='round', zorder=4))

# frame around the map
for xy in ([(0,0),(SIZE,0),(SIZE,7.4),(0,7.4)], [(0,1561),(SIZE,1561),(SIZE,SIZE),(0,SIZE)],
           [(0,0),(7.4,0),(7.4,SIZE),(0,SIZE)], [(1561,0),(SIZE,0),(SIZE,SIZE),(1561,SIZE)]):
    ax.add_patch(Polygon(xy, closed=True, facecolor='black', edgecolor='none', zorder=5))

shadow = [pe.withSimplePatchShadow(offset=(1.4, -1.4), shadow_rgbFace='black', alpha=0.55), pe.Normal()]
for labels, weight in ((labels_bold, 'bold'), (labels_plain, 'normal')):
    for text, x, y, size in labels:
        t = ax.text(x, y + 0.07 * size, text, color='white', ha='center', va='center', multialignment='center',
                    fontsize=size * U_TO_PT, fontweight=weight, family='DejaVu Sans', linespacing=1.03, zorder=6)
        t.set_path_effects(shadow)

fig.savefig('out.png', dpi=100, facecolor='black')
